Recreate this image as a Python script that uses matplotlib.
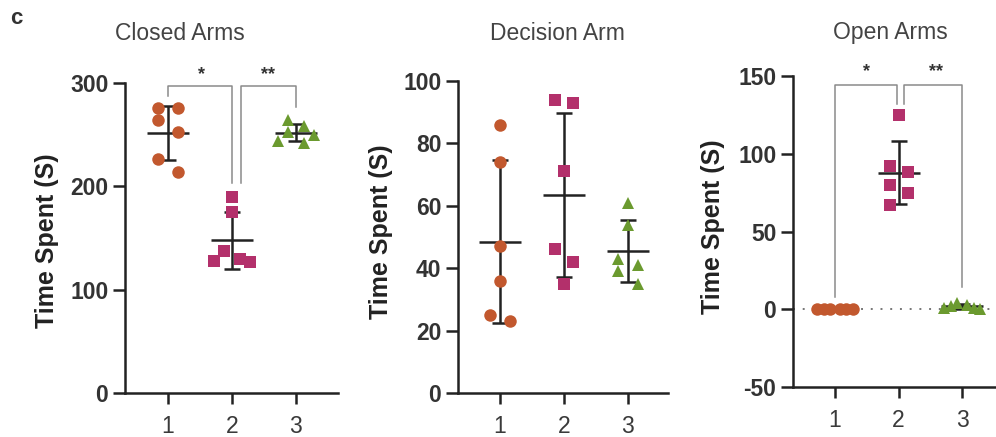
import numpy as np
import matplotlib.pyplot as plt

plt.rcParams['font.family'] = ['Liberation Sans', 'DejaVu Sans']
plt.rcParams['axes.unicode_minus'] = False

GROUPS = [1, 2, 3]
TICK_LABELS = ['1', '2', '3']

# time spent per animal, one list per group
closed_arms = [[276, 276, 264, 253, 226, 214],
               [190, 175, 137, 130, 127, 128],
               [264, 258, 253, 250, 244, 242]]
decision_arm = [[86, 74, 47, 36, 25, 23],
                [93, 94, 71, 46, 42, 35],
                [61, 54, 43, 41, 39, 35]]
open_arms = [[0, 0, 0, 0, 0, 0],
             [125, 92, 88, 80, 75, 67],
             [4, 3, 2, 1, 1, 0]]

COLORS = ['#c2582e', '#b3306b', '#6b9a2f']
MARKERS = ['o', 's', '^']
MSIZES = [9.0, 8.0, 9.0]
INK = '#222222'
BRACKET = '#8a8a8a'


def scatter_offsets(ax, x0, values, diam, side=0.8, band=1.3, max_half=0.28):
    """Spread close points to alternating sides, in the manner of a dot plot."""
    tr = ax.transData
    px_per_x = tr.transform((1, 0))[0] - tr.transform((0, 0))[0]
    ys = [tr.transform((x0, v))[1] for v in values]
    order = sorted(range(len(values)), key=lambda i: -values[i])

    # chains of points whose neighbours sit within the band
    chains = [[order[0]]]
    for prev, cur in zip(order, order[1:]):
        if abs(ys[prev] - ys[cur]) < band * diam:
            chains[-1].append(cur)
        else:
            chains.append([cur])

    offsets = [0.0] * len(values)
    for chain in chains:
        if len(chain) == 1:
            continue
        placed = []
        for j, i in enumerate(chain):
            sign = -1 if j % 2 == 0 else 1
            dx = sign * side * diam
            while any(abs(dx - px) < diam and abs(ys[i] - py) < 0.9 * diam
                      for px, py in placed):
                dx += sign * diam
            placed.append((dx, ys[i]))
            offsets[i] = dx / px_per_x
    widest = max(abs(o) for o in offsets)
    if widest > max_half:
        offsets = [o * max_half / widest for o in offsets]
    return offsets


def style_axes(ax, ylim, yticks, label_xy):
    ax.set_ylim(*ylim)
    ax.set_yticks(yticks)
    ax.set_xticks(GROUPS)
    ax.set_xticklabels(TICK_LABELS)
    for s in ['top', 'right']:
        ax.spines[s].set_visible(False)
    for s in ['left', 'bottom']:
        ax.spines[s].set_linewidth(1.8)
        ax.spines[s].set_color(INK)
    ax.tick_params(axis='both', width=1.8, color=INK)
    ax.tick_params(axis='y', length=9, labelsize=16.5, labelcolor='#333333', pad=3)
    ax.tick_params(axis='x', length=8, labelsize=16.5, labelcolor='#3a3a3a', pad=8)
    for lab in ax.get_yticklabels():
        lab.set_fontweight('bold')
    ax.set_ylabel('Time Spent (S)', fontsize=18, fontweight='bold', color=INK)
    ax.yaxis.set_label_coords(*label_xy)


def draw_groups(ax, data):
    for x0, vals, c, m, ms in zip(GROUPS, data, COLORS, MARKERS, MSIZES):
        vals = np.asarray(vals, dtype=float)
        offs = scatter_offsets(ax, x0, list(vals), diam=ms * 100 / 72)
        ax.plot(x0 + np.asarray(offs), vals, linestyle='none', marker=m,
                markersize=ms, color=c, markeredgewidth=0, zorder=3)
        mean = vals.mean()
        sd = vals.std(ddof=1)
        ax.errorbar(x0, mean, yerr=sd, color=INK, elinewidth=1.8,
                    capsize=6, capthick=1.8, zorder=2)
        ax.hlines(mean, x0 - 0.33, x0 + 0.33, color=INK, linewidth=1.8, zorder=2)


def draw_brackets(ax, top, legs, stars):
    # legs: (x_left, y_left, x_right, y_right) for each comparison
    for xl, yl, xr, yr in legs:
        ax.plot([xl, xl, xr, xr], [yl, top, top, yr], color=BRACKET,
                linewidth=1.1, zorder=1, clip_on=False)
    for x, y, s in stars:
        ax.text(x, y, s, ha='center', va='center', fontsize=13,
                fontweight='bold', color='#333333')


fig = plt.figure(figsize=(9.96, 4.37), dpi=100)

ax1 = fig.add_axes([0.1255, 0.1007, 0.2139, 0.7094])
ax2 = fig.add_axes([0.4598, 0.1007, 0.2108, 0.7140])
ax3 = fig.add_axes([0.7962, 0.1144, 0.2038, 0.7117])

ax1.set_xlim(0.33, 3.66)
ax2.set_xlim(0.34, 3.63)
ax3.set_xlim(0.34, 3.53)

style_axes(ax1, (0, 300), [0, 100, 200, 300], (-0.31, 0.49))
style_axes(ax2, (0, 100), [0, 20, 40, 60, 80, 100], (-0.31, 0.516))
style_axes(ax3, (-50, 150), [-50, 0, 50, 100, 150], (-0.335, 0.514))

ax3.axhline(0, color='#777777', linewidth=1.4, linestyle=(0, (1, 4)), zorder=1)

draw_groups(ax1, closed_arms)
draw_groups(ax2, decision_arm)
draw_groups(ax3, open_arms)

draw_brackets(ax1, 297, [(1.0, 287, 2.0, 203), (2.14, 203, 3.0, 277)],
              [(1.52, 308, '*'), (2.56, 308, '**')])
draw_brackets(ax3, 144, [(1.0, 8, 1.98, 132), (2.09, 132, 3.0, 14)],
              [(1.5, 153, '*'), (2.58, 153, '**')])

for x_px, title in [(180, 'Closed Arms'), (557, 'Decision Arm'), (890, 'Open Arms')]:
    fig.text(x_px / 996, 1 - 33 / 437, title, ha='center', va='center',
             fontsize=16.5, color='#444444')
fig.text(10 / 996, 1 - 18 / 437, 'c', ha='left', va='center',
         fontsize=16, fontweight='bold', color='#333333')

fig.savefig('out.png', dpi=100)
